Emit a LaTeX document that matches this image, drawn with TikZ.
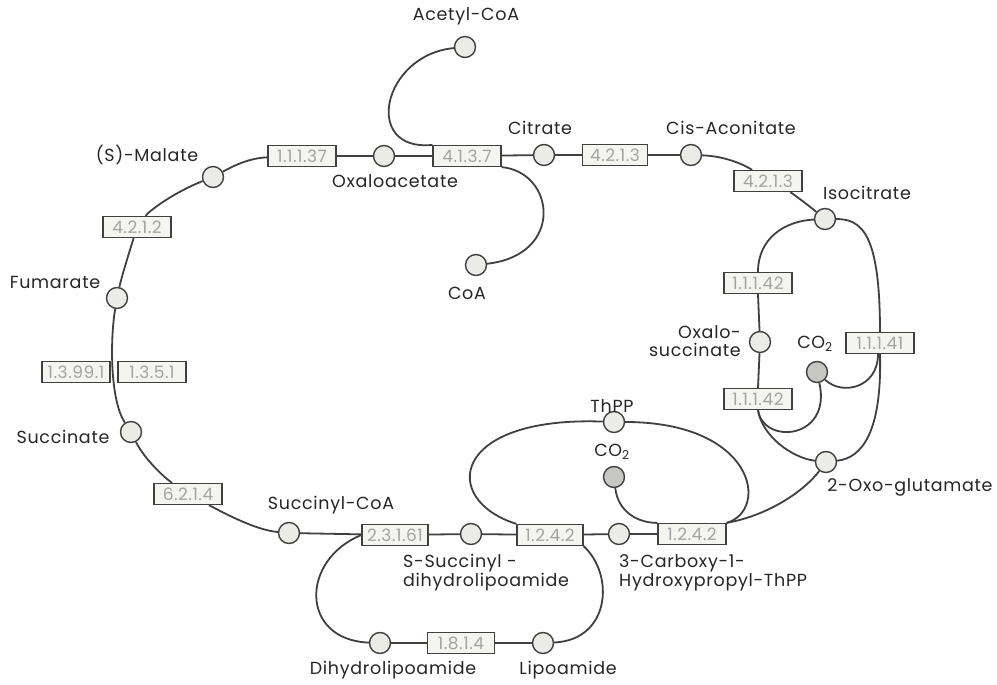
\documentclass[tikz,border=0pt]{standalone}
\usepackage{fontspec}
\setmainfont{Poppins}
\usetikzlibrary{backgrounds}
\definecolor{linec}{HTML}{404040}
\definecolor{metfill}{HTML}{EBEBE8}
\definecolor{cofill}{HTML}{C6C6C3}
\definecolor{boxfill}{HTML}{F4F4F1}
\definecolor{ectext}{HTML}{A3A3A3}
\definecolor{txt}{HTML}{262626}
\begin{document}
\begin{tikzpicture}[x=1pt,y=-1pt,
  met/.style={circle,draw=linec,line width=1.4pt,fill=metfill,minimum size=21pt,inner sep=0pt},
  co/.style={met,fill=cofill},
  ec/.style={draw=linec,line width=1.2pt,fill=boxfill,minimum width=68pt,minimum height=21pt,inner sep=0pt,
    text=ectext,font=\fontsize{17}{17}\selectfont\addfontfeature{LetterSpace=3}},
  lab/.style={text=txt,inner sep=0pt,font=\fontsize{17.5}{18}\selectfont\addfontfeature{LetterSpace=4}},
  conn/.style={draw=linec,line width=1.8pt}]
\useasboundingbox (0,0) rectangle (997,685);

% metabolites
\node[met] (acetyl) at (465,47) {};
\node[met] (oaa) at (384,156) {};
\node[met] (cit) at (544,155) {};
\node[met] (cis) at (691,155) {};
\node[met] (iso) at (825,219) {};
\node[met] (oxs) at (760,342) {};
\node[co] (co2a) at (817,372) {};
\node[met] (oxg) at (826,462) {};
\node[met] (mal) at (213,177) {};
\node[met] (fum) at (117,298) {};
\node[met] (suc) at (131,432) {};
\node[met] (sca) at (289,533) {};
\node[met] (ssd) at (471,534) {};
\node[met] (chp) at (619,534) {};
\node[met] (thpp) at (614,422) {};
\node[co] (co2b) at (614,477) {};
\node[met] (dhl) at (380,643) {};
\node[met] (lip) at (543,643) {};
\node[met] (coa) at (476,265) {};

% enzymes
\node[ec] (e11137) at (302,156) {1.1.1.37};
\node[ec] (e4137) at (467,156) {4.1.3.7};
\node[ec,minimum width=65pt] (e4213a) at (615,155) {4.2.1.3};
\node[ec] (e4213b) at (768,181) {4.2.1.3};
\node[ec] (e11142a) at (758,283) {1.1.1.42};
\node[ec] (e11141) at (880,343) {1.1.1.41};
\node[ec] (e11142b) at (758,399) {1.1.1.42};
\node[ec] (e4212) at (137,227) {4.2.1.2};
\node[ec] (e13991) at (76,372) {1.3.99.1};
\node[ec] (e1351) at (152,372) {1.3.5.1};
\node[ec] (e6214) at (188,494) {6.2.1.4};
\node[ec,minimum width=66pt] (e23161) at (395,535) {2.3.1.61};
\node[ec,minimum width=66pt] (e1242a) at (550,535) {1.2.4.2};
\node[ec] (e1242b) at (692,534) {1.2.4.2};
\node[ec,minimum width=67pt] (e1814) at (461,643) {1.8.1.4};

% connectors (behind nodes)
\begin{scope}[on background layer]
\fill[white] (0,0) rectangle (997,685);
\path[conn] (mal) .. controls (235,165) and (250,158) .. (e11137);
\path[conn] (e11137) -- (oaa) -- (e4137) -- (cit) -- (e4213a) -- (cis);
\path[conn] (cis) .. controls (725,156) and (745,165) .. (e4213b);
\path[conn] (e4213b) .. controls (792,193) and (808,205) .. (iso);
\path[conn] (iso) .. controls (785,221) and (758,238) .. (e11142a.north);
\path[conn] (e11142a.south) -- (oxs) -- (e11142b.north);
\path[conn] (e11142b.south) .. controls (762,436) and (792,458) .. (oxg);
\path[conn] (e11142b.south) .. controls (763,445) and (832,440) .. (co2a);
\path[conn] (iso) .. controls (862,219) and (880,234) .. (e11141.north);
\path[conn] (e11141.south) .. controls (882,432) and (862,458) .. (oxg);
\path[conn] ([xshift=-2pt]e11141.south) .. controls (878,388) and (842,396) .. (co2a);
\path[conn] (oxg) .. controls (805,490) and (770,515) .. (e1242b.north east);
\path[conn] (sca) -- (e23161) -- (ssd) -- (e1242a) -- (chp) -- (e1242b);
\path[conn] (e1242a.north west) .. controls (440,500) and (450,416) .. (thpp);
\path[conn] (thpp) .. controls (755,422) and (770,510) .. (e1242b.north east);
\path[conn] (co2b) .. controls (618,512) and (638,523) .. (e1242b.north west);
\path[conn] (e23161.west) .. controls (300,560) and (300,640) .. (dhl);
\path[conn] (e1242a.south east) .. controls (615,575) and (610,640) .. (lip);
\path[conn] (dhl) -- (e1814) -- (lip);
\path[conn] (acetyl) .. controls (382,55) and (362,152) .. (e4137.north west);
\path[conn] (e4137.south east) .. controls (555,172) and (565,255) .. (coa);
\path[conn] (mal) .. controls (175,192) and (150,210) .. (e4212);
\path[conn] (e4212) .. controls (130,250) and (122,275) .. (fum);
\path[conn] (fum) .. controls (110,340) and (110,400) .. (suc);
\path[conn] (suc) .. controls (145,460) and (165,478) .. (e6214);
\path[conn] (e6214) .. controls (222,512) and (255,530) .. (sca);
\end{scope}

% labels
\node[lab] (l1) at (466,16) {Acetyl-CoA};
\node[lab] (l2) at (147,155) {(S)-Malate};
\node[lab] (l3) at (395,181) {Oxaloacetate};
\node[lab] (l4) at (540,128) {Citrate};
\node[lab] (l5) at (731,128) {Cis-Aconitate};
\node[lab] (l6) at (867,193) {Isocitrate};
\node[lab] (l7) at (467,293) {CoA};
\node[lab] (l8) at (55,282) {Fumarate};
\node[lab,align=right,anchor=east] (l9) at (741,341) {Oxalo-\\succinate};
\node[lab] (l10) at (815,344) {CO\textsubscript{2}};
\node[lab] (l11) at (612,406) {ThPP};
\node[lab] (l12) at (612,452) {CO\textsubscript{2}};
\node[lab] (l13) at (63,437) {Succinate};
\node[lab] (l14) at (910,487) {2-Oxo-glutamate};
\node[lab] (l15) at (331,505) {Succinyl-CoA};
\node[lab,align=left,anchor=west,font=\fontsize{17.5}{17}\selectfont\addfontfeature{LetterSpace=4}] (l16) at (403,573) {S-Succinyl -\\dihydrolipoamide};
\node[lab,align=left,anchor=west,font=\fontsize{17.5}{17}\selectfont\addfontfeature{LetterSpace=4}] (l17) at (619,573) {3-Carboxy-1-\\Hydroxypropyl-ThPP};
\node[lab] (l18) at (393,670) {Dihydrolipoamide};
\node[lab] (l19) at (568,670) {Lipoamide};
\end{tikzpicture}
\end{document}
